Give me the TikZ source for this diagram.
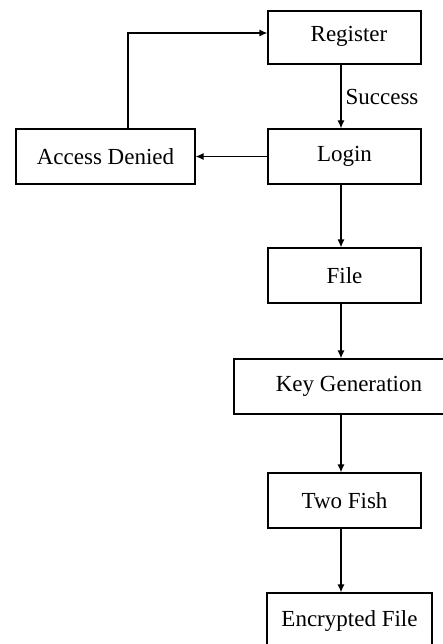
\documentclass[tikz,border=0pt]{standalone}
\usepackage{fontspec}
\setmainfont{Liberation Serif}
\usetikzlibrary{arrows.meta}
\begin{document}
\begin{tikzpicture}[x=1pt,y=-1pt,
  box/.style={draw, line width=1.2pt, inner sep=0pt, font=\fontsize{23}{27}\selectfont},
  arr/.style={line width=1.2pt, -{Latex[length=8pt,width=7pt]}},
  lbl/.style={inner sep=0pt, font=\fontsize{23}{27}\selectfont}]
\useasboundingbox (0,0) rectangle (443,644);
\clip (0,0) rectangle (443,644);
\node[box, minimum width=153pt, minimum height=53pt, text depth=8pt] (reg) at (344.5,37.5) {\hspace*{9pt}Register};
\node[box, minimum width=153pt, minimum height=55pt] (login) at (344.5,156.5) {Login};
\node[box, minimum width=179pt, minimum height=55pt] (denied) at (105.5,156.5) {Access Denied};
\node[box, minimum width=153pt, minimum height=55pt] (file) at (344.5,275.5) {File};
\node[box, minimum width=230pt, minimum height=55pt] (keygen) at (349,386.5) {Key Generation};
\node[box, minimum width=153pt, minimum height=55pt] (fish) at (344.5,500.5) {Two Fish};
\node[box, minimum width=165pt, minimum height=55pt] (enc) at (349.5,620.5) {Encrypted File};
\draw[arr] ([xshift=-3.5pt]reg.south) -- node[lbl, right=4pt] (succ) {Success} ([xshift=-3.5pt]login.north);
\draw[arr] (login.west) -- (denied.east);
\draw[arr] ([xshift=22.5pt]denied.north) |- ([yshift=4.5pt]reg.west);
\draw[arr] ([xshift=-3.5pt]login.south) -- ([xshift=-3.5pt]file.north);
\draw[arr] ([xshift=-3.5pt]file.south) -- ([xshift=-8pt]keygen.north);
\draw[arr] ([xshift=-8pt]keygen.south) -- ([xshift=-3.5pt]fish.north);
\draw[arr] ([xshift=-3.5pt]fish.south) -- ([xshift=-8.5pt]enc.north);
\end{tikzpicture}
\end{document}
